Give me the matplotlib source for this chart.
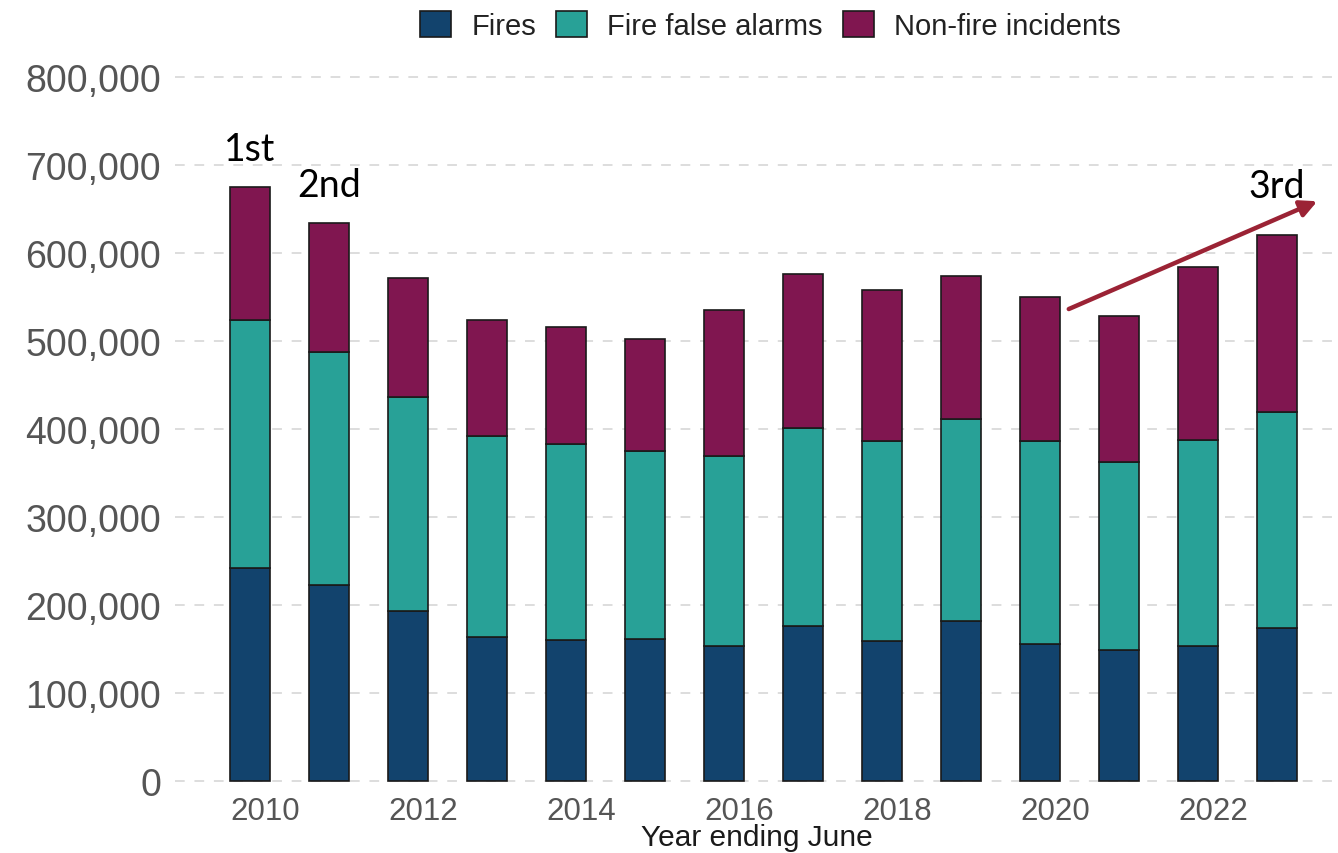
import matplotlib.pyplot as plt
import matplotlib.transforms as mtransforms
from matplotlib.ticker import FuncFormatter

# values (year ending June)
years = list(range(2010, 2024))
fires = [242000, 222700, 192800, 163600, 160200, 161400, 153400,
         176500, 159100, 181800, 155300, 148900, 153800, 173500]
false_alarm_tops = [524000, 488000, 436700, 392400, 382600, 375000, 369700,
                    400800, 386000, 411400, 386000, 362500, 387500, 419000]
totals = [675000, 634000, 571600, 524000, 516000, 502300, 534900,
          576500, 558300, 573500, 550000, 528400, 584400, 620800]

false_alarms = [t - f for t, f in zip(false_alarm_tops, fires)]
non_fire = [t - a for t, a in zip(totals, false_alarm_tops)]

colors = ['#12436D', '#28A197', '#801650']
labels = ['Fires', 'Fire false alarms', 'Non-fire incidents']
ranks = {2010: '1st', 2011: '2nd', 2023: '3rd'}

plt.rcParams['font.family'] = ['Liberation Sans', 'DejaVu Sans']

fig = plt.figure(figsize=(13.38, 8.54), dpi=100)
ax = fig.add_axes([0.1308, 0.0802, 0.8692, 0.8409])

bottom = [0] * len(years)
for vals, c, lab in zip([fires, false_alarms, non_fire], colors, labels):
    ax.bar(years, vals, width=0.5, bottom=bottom, color=c,
           edgecolor='#1a1a1a', linewidth=1.2, label=lab, zorder=3)
    bottom = [b + v for b, v in zip(bottom, vals)]

ax.set_xlim(2009.05, 2023.77)
ax.set_ylim(-4000, 812000)
ax.set_yticks(range(0, 800001, 100000))
ax.yaxis.set_major_formatter(FuncFormatter(lambda v, p: f'{int(v):,}'))
ax.set_xticks(range(2010, 2023, 2))

ax.grid(axis='y', linestyle=(0, (5, 5)), color='#dddddd', linewidth=1.4, zorder=0)
for s in ax.spines.values():
    s.set_visible(False)
ax.tick_params(length=0)
ax.tick_params(axis='y', labelsize=27, labelcolor='#555555', pad=10)
ax.tick_params(axis='x', labelsize=22.5, labelcolor='#555555', pad=8)

# x labels sit a little right of the bars in the original
shift = mtransforms.ScaledTranslation(0.15, 0, fig.dpi_scale_trans)
for lbl in ax.get_xticklabels():
    lbl.set_transform(lbl.get_transform() + shift)

ax.set_xlabel('Year ending June', fontsize=21.5, color='#1a1a1a', labelpad=-2)

# rank annotations
for yr, txt in ranks.items():
    i = years.index(yr)
    off = 43000 if yr == 2023 else 31000
    ax.text(yr, totals[i] + off, txt, ha='center', va='baseline',
            fontsize=27, family=['Lato', 'DejaVu Sans'], color='black')

i20 = years.index(2020)
ax.annotate('', xy=(2023.54, 660000), xytext=(2020.33, totals[i20] - 15000),
            arrowprops=dict(arrowstyle='-|>,head_length=1.0,head_width=0.5',
                            color='#9B2335', lw=3.2),
            annotation_clip=False, zorder=5)

fig.legend(loc='center', bbox_to_anchor=(0.576, 0.969), ncol=3, frameon=False,
           fontsize=21, handlelength=1.05, handleheight=1.0,
           handletextpad=0.7, columnspacing=0.7, labelcolor='#222222')

plt.savefig('out.png', dpi=100)
